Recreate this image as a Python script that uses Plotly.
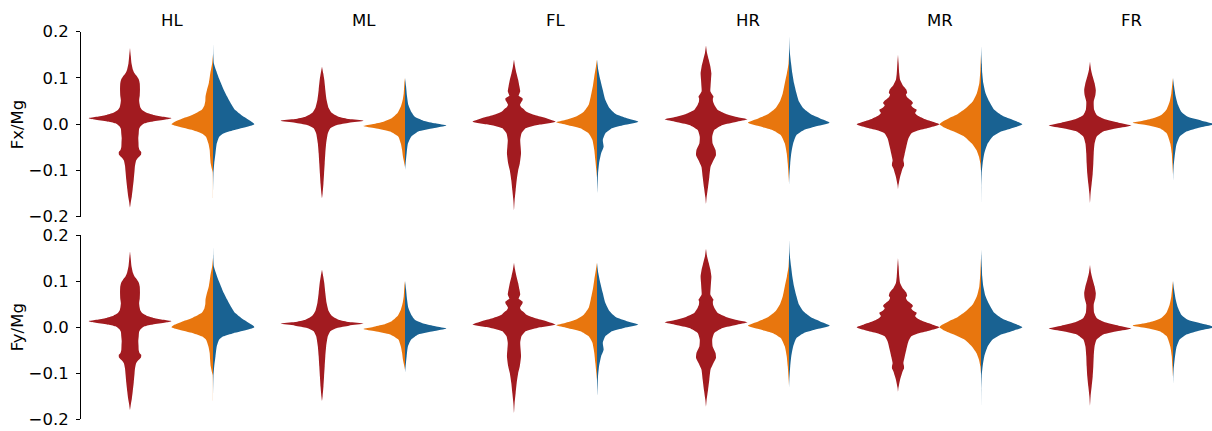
import plotly.graph_objects as go

PANELS = ["HL", "ML", "FL", "HR", "MR", "FR"]
ROW_LABELS = ["Fx/Mg", "Fy/Mg"]
TICK_VALUES = [-0.2, -0.1, 0.0, 0.1, 0.2]
TICK_TEXT = ["\u22120.2", "\u22120.1", "0.0", "0.1", "0.2"]

RED = "#a21b20"
ORANGE = "#e8760e"
BLUE = "#196292"

# Kernel-density profiles: (force value, density relative to the violin's peak)
HL_red = [(0.165, 0), (0.147, 0.02), (0.132, 0.036), (0.118, 0.07), (0.11, 0.11), (0.103, 0.17),
          (0.096, 0.215), (0.088, 0.235), (0.075, 0.24), (0.062, 0.235), (0.052, 0.22), (0.044, 0.23),
          (0.036, 0.25), (0.030, 0.30), (0.025, 0.40), (0.02, 0.58), (0.016, 0.80), (0.013, 1.0),
          (0.010, 0.85), (0.006, 0.55), (0.002, 0.35), (-0.004, 0.26), (-0.01, 0.22), (-0.02, 0.21),
          (-0.03, 0.20), (-0.04, 0.205), (-0.05, 0.21), (-0.056, 0.23), (-0.06, 0.27), (-0.066, 0.265),
          (-0.072, 0.2), (-0.078, 0.15), (-0.09, 0.12), (-0.10, 0.11), (-0.12, 0.09), (-0.14, 0.065),
          (-0.155, 0.045), (-0.168, 0.02), (-0.18, 0)]
HL_orange = [(0.15, 0), (0.132, 0.02), (0.11, 0.065), (0.089, 0.10), (0.074, 0.145), (0.06, 0.18),
             (0.05, 0.185), (0.04, 0.21), (0.031, 0.27), (0.02, 0.5), (0.013, 0.72), (0.0055, 0.92),
             (0.0, 1.0), (-0.005, 0.84), (-0.013, 0.48), (-0.02, 0.27), (-0.027, 0.17), (-0.042, 0.11),
             (-0.056, 0.08), (-0.07, 0.07), (-0.085, 0.055), (-0.096, 0.03), (-0.104, 0.008),
             (-0.16, 0)]
HL_blue = [(0.178, 0), (0.15, 0.008), (0.132, 0.02), (0.115, 0.08), (0.1, 0.14), (0.089, 0.19),
           (0.074, 0.26), (0.06, 0.34), (0.045, 0.43), (0.031, 0.53), (0.02, 0.68), (0.013, 0.8),
           (0.0055, 0.93), (0.0, 1.0), (-0.005, 0.85), (-0.013, 0.49), (-0.02, 0.25), (-0.027, 0.15),
           (-0.042, 0.09), (-0.063, 0.06), (-0.085, 0.03), (-0.107, 0.01), (-0.165, 0)]

ML_red = [(0.125, 0), (0.11, 0.03), (0.096, 0.055), (0.074, 0.08), (0.053, 0.11), (0.035, 0.16),
          (0.024, 0.24), (0.016, 0.40), (0.011, 0.65), (0.0077, 1.0), (0.0033, 0.65), (-0.0018, 0.36),
          (-0.009, 0.2), (-0.02, 0.14), (-0.042, 0.1), (-0.063, 0.08), (-0.085, 0.065),
          (-0.107, 0.05), (-0.129, 0.035), (-0.15, 0.015), (-0.16, 0)]
ML_orange = [(0.1, 0), (0.089, 0.015), (0.067, 0.03), (0.053, 0.055), (0.038, 0.1), (0.024, 0.18),
             (0.013, 0.32), (0.0055, 0.52), (0.0004, 0.77), (-0.004, 1.0), (-0.009, 0.72),
             (-0.016, 0.36), (-0.027, 0.16), (-0.042, 0.1), (-0.056, 0.07), (-0.07, 0.05),
             (-0.081, 0.025), (-0.092, 0)]
ML_blue = [(0.1, 0), (0.082, 0.025), (0.06, 0.05), (0.042, 0.08), (0.027, 0.15), (0.016, 0.24),
           (0.0077, 0.44), (0.0019, 0.73), (-0.003, 1.0), (-0.009, 0.68), (-0.016, 0.32),
           (-0.027, 0.15), (-0.042, 0.07), (-0.063, 0.04), (-0.085, 0.015), (-0.1, 0)]

FL_red = [(0.14, 0), (0.125, 0.025), (0.11, 0.06), (0.096, 0.1), (0.082, 0.13), (0.071, 0.15),
          (0.066, 0.13), (0.062, 0.11), (0.058, 0.17), (0.055, 0.21), (0.051, 0.2), (0.047, 0.17),
          (0.042, 0.145), (0.037, 0.17), (0.033, 0.23), (0.027, 0.3), (0.02, 0.5), (0.015, 0.7),
          (0.0055, 1.0), (-0.0017, 0.56), (-0.009, 0.28), (-0.02, 0.18), (-0.034, 0.15),
          (-0.049, 0.16), (-0.063, 0.17), (-0.085, 0.14), (-0.1, 0.1), (-0.121, 0.065),
          (-0.143, 0.04), (-0.165, 0.015), (-0.186, 0)]
FL_orange = [(0.14, 0), (0.125, 0.025), (0.103, 0.065), (0.082, 0.1), (0.06, 0.15), (0.042, 0.2),
             (0.027, 0.32), (0.016, 0.52), (0.009, 0.77), (0.004, 0.98), (-0.0017, 0.72),
             (-0.009, 0.4), (-0.02, 0.2), (-0.034, 0.11), (-0.056, 0.065), (-0.078, 0.04),
             (-0.1, 0.015), (-0.114, 0)]
FL_blue = [(0.14, 0), (0.118, 0.03), (0.096, 0.08), (0.074, 0.14), (0.053, 0.2), (0.035, 0.3),
           (0.022, 0.45), (0.013, 0.72), (0.0055, 1.0), (-0.0017, 0.65), (-0.009, 0.36),
           (-0.02, 0.2), (-0.034, 0.14), (-0.049, 0.16), (-0.063, 0.1), (-0.085, 0.05),
           (-0.107, 0.025), (-0.143, 0.005), (-0.15, 0)]

HR_red = [(0.17, 0), (0.154, 0.025), (0.14, 0.065), (0.125, 0.105), (0.11, 0.13), (0.096, 0.12),
          (0.082, 0.11), (0.071, 0.105), (0.064, 0.15), (0.06, 0.18), (0.055, 0.165), (0.049, 0.17),
          (0.042, 0.2), (0.031, 0.28), (0.022, 0.48), (0.015, 0.77), (0.0105, 1.0), (0.0048, 0.72),
          (-0.0017, 0.4), (-0.0126, 0.2), (-0.027, 0.15), (-0.042, 0.16), (-0.056, 0.23),
          (-0.067, 0.24), (-0.078, 0.18), (-0.092, 0.11), (-0.114, 0.08), (-0.136, 0.05),
          (-0.158, 0.015), (-0.172, 0)]
HR_orange = [(0.15, 0), (0.132, 0.01), (0.11, 0.05), (0.089, 0.1), (0.067, 0.15), (0.049, 0.22),
             (0.035, 0.32), (0.022, 0.5), (0.013, 0.73), (0.0033, 0.99), (-0.004, 0.73),
             (-0.0126, 0.4), (-0.0236, 0.2), (-0.042, 0.1), (-0.063, 0.055), (-0.085, 0.03),
             (-0.114, 0.008), (-0.125, 0)]
HR_blue = [(0.19, 0), (0.16, 0.015), (0.132, 0.05), (0.11, 0.08), (0.089, 0.12), (0.067, 0.18),
           (0.049, 0.24), (0.035, 0.34), (0.022, 0.52), (0.013, 0.74), (0.0033, 0.98),
           (-0.004, 0.68), (-0.0126, 0.36), (-0.0236, 0.18), (-0.042, 0.1), (-0.063, 0.055),
           (-0.085, 0.03), (-0.114, 0.008), (-0.136, 0)]

MR_red = [(0.15, 0), (0.132, 0.015), (0.11, 0.03), (0.096, 0.05), (0.085, 0.11), (0.075, 0.2),
          (0.068, 0.22), (0.064, 0.19), (0.058, 0.22), (0.05, 0.33), (0.046, 0.36), (0.041, 0.32),
          (0.036, 0.36), (0.031, 0.45), (0.028, 0.44), (0.024, 0.41), (0.018, 0.48), (0.012, 0.62),
          (0.006, 0.82), (0.0, 1.0), (-0.007, 0.77), (-0.0126, 0.52), (-0.02, 0.32), (-0.031, 0.25),
          (-0.049, 0.2), (-0.065, 0.16), (-0.078, 0.13), (-0.085, 0.145), (-0.09, 0.145),
          (-0.096, 0.11), (-0.105, 0.08), (-0.114, 0.05), (-0.125, 0.025), (-0.132, 0.01),
          (-0.14, 0)]
MR_orange = [(0.15, 0), (0.118, 0.015), (0.089, 0.04), (0.067, 0.1), (0.049, 0.2), (0.035, 0.36),
             (0.022, 0.56), (0.013, 0.77), (0.0055, 0.93), (0.0, 1.0), (-0.007, 0.89),
             (-0.016, 0.65), (-0.027, 0.4), (-0.042, 0.22), (-0.056, 0.11), (-0.07, 0.05),
             (-0.085, 0.015), (-0.1, 0)]
MR_blue = [(0.17, 0), (0.13, 0.02), (0.11, 0.03), (0.089, 0.055), (0.067, 0.11), (0.049, 0.2),
           (0.031, 0.32), (0.018, 0.52), (0.009, 0.77), (0.0, 1.0), (-0.007, 0.8), (-0.016, 0.48),
           (-0.027, 0.28), (-0.042, 0.16), (-0.063, 0.08), (-0.085, 0.04), (-0.107, 0.015),
           (-0.136, 0.004), (-0.19, 0)]

FR_red = [(0.135, 0), (0.118, 0.025), (0.103, 0.065), (0.089, 0.11), (0.074, 0.14), (0.063, 0.13),
          (0.049, 0.09), (0.031, 0.1), (0.02, 0.16), (0.0105, 0.36), (0.0033, 0.69), (-0.003, 1.0),
          (-0.009, 0.65), (-0.016, 0.32), (-0.027, 0.16), (-0.042, 0.11), (-0.063, 0.09),
          (-0.085, 0.08), (-0.107, 0.065), (-0.129, 0.04), (-0.15, 0.015), (-0.17, 0)]
FR_orange = [(0.1, 0), (0.089, 0.015), (0.067, 0.04), (0.049, 0.08), (0.031, 0.16), (0.02, 0.28),
             (0.013, 0.48), (0.0077, 0.73), (0.0033, 0.97), (-0.0017, 0.65), (-0.009, 0.32),
             (-0.02, 0.15), (-0.042, 0.065), (-0.063, 0.03), (-0.085, 0.015), (-0.107, 0)]
FR_blue = [(0.1, 0), (0.082, 0.025), (0.06, 0.065), (0.042, 0.12), (0.027, 0.2), (0.016, 0.36),
           (0.0077, 0.69), (0.0, 1.0), (-0.007, 0.65), (-0.016, 0.32), (-0.027, 0.16),
           (-0.045, 0.08), (-0.07, 0.04), (-0.092, 0.015), (-0.114, 0.004), (-0.125, 0)]

PROFILES = {
    "HL": (HL_red, HL_orange, HL_blue),
    "ML": (ML_red, ML_orange, ML_blue),
    "FL": (FL_red, FL_orange, FL_blue),
    "HR": (HR_red, HR_orange, HR_blue),
    "MR": (MR_red, MR_orange, MR_blue),
    "FR": (FR_red, FR_orange, FR_blue),
}
# both force components share the same distributions
ROW_PROFILES = [PROFILES, PROFILES]

W, H = 1212, 431
FONT = dict(family="DejaVu Sans", size=16.5, color="#000000")
HALF = 0.5            # peak half-width of each violin, in category units
UNIT_PX = 83.0        # pixels per category
COL_LEFT0, COL_PITCH = 88.5, 192.0
ROW_PX = [(31.7, 216.7), (235.0, 419.3)]
AXIS_X_PX = 80.0


def sorted_profile(profile):
    pts = sorted(profile, key=lambda p: p[0])
    return [p[0] for p in pts], [p[1] for p in pts]


def full_violin(profile, center):
    ys, ws = sorted_profile(profile)
    x = [center + HALF * w for w in ws] + [center - HALF * w for w in reversed(ws)]
    y = ys + ys[::-1]
    return x, y


def half_violin(profile, center, side):
    ys, ws = sorted_profile(profile)
    x = [center] + [center + side * HALF * w for w in ws] + [center]
    y = [ys[0]] + ys + [ys[-1]]
    return x, y


fig = go.Figure()
layout = dict(
    width=W, height=H, autosize=False,
    margin=dict(l=0, r=0, t=0, b=0, pad=0),
    paper_bgcolor="white", plot_bgcolor="white",
    showlegend=False, font=FONT,
)
annotations = []

for r, profiles in enumerate(ROW_PROFILES):
    top_px, bot_px = ROW_PX[r]
    ydom = [1 - bot_px / H, 1 - top_px / H]
    for c, name in enumerate(PANELS):
        idx = r * len(PANELS) + c + 1
        sfx = "" if idx == 1 else str(idx)
        left = COL_LEFT0 + c * COL_PITCH
        right = min(left + 2 * UNIT_PX, W)
        xaxis = dict(domain=[left / W, right / W],
                     range=[-0.5, -0.5 + (right - left) / UNIT_PX],
                     visible=False, fixedrange=True, automargin=False, anchor="y" + sfx)
        yaxis = dict(domain=ydom, range=[-0.2, 0.2], fixedrange=True, automargin=False,
                     showgrid=False, zeroline=False)
        if c == 0:
            yaxis.update(anchor="free", position=AXIS_X_PX / W,
                         showline=True, linecolor="#000000", linewidth=1,
                         ticks="outside", ticklen=4, tickwidth=1, tickcolor="#000000",
                         tickvals=TICK_VALUES, ticktext=TICK_TEXT,
                         tickfont=FONT, ticklabelstandoff=4)
        else:
            yaxis.update(anchor="x" + sfx, visible=False)
        layout["xaxis" + sfx] = xaxis
        layout["yaxis" + sfx] = yaxis

        red, orange, blue = profiles[name]
        xr, yr = full_violin(red, 0)
        xo, yo = half_violin(orange, 1, -1)
        xb, yb = half_violin(blue, 1, 1)
        for (xs, ys, col) in ((xr, yr, RED), (xo, yo, ORANGE), (xb, yb, BLUE)):
            fig.add_trace(go.Scatter(
                x=xs, y=ys, mode="lines", fill="toself", fillcolor=col,
                line=dict(width=0, color=col, shape="spline", smoothing=0.5),
                hoverinfo="skip", xaxis="x" + sfx, yaxis="y" + sfx))

        if r == 0:
            annotations.append(dict(text=name, xref="paper", yref="paper",
                                    x=(left + UNIT_PX) / W, y=1 - 20 / H,
                                    xanchor="center", yanchor="middle",
                                    showarrow=False, font=FONT))
    annotations.append(dict(text=ROW_LABELS[r], xref="paper", yref="paper",
                            x=17 / W, y=1 - (top_px + bot_px) / 2 / H,
                            xanchor="center", yanchor="middle", textangle=-90,
                            showarrow=False, font=FONT))

layout["annotations"] = annotations
fig.update_layout(**layout)
fig.write_html("out.html")
